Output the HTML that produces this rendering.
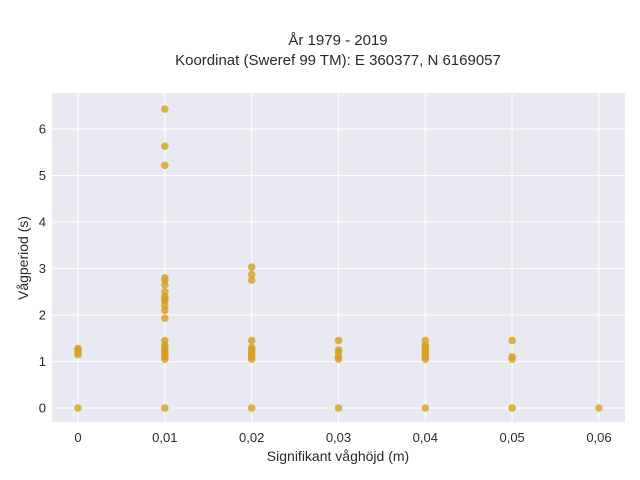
<!DOCTYPE html>
<html><head><meta charset="utf-8">
<style>
body{margin:0;background:#fff;}
svg{display:block;font-family:"Liberation Sans",sans-serif;}
</style></head>
<body>
<svg id="chart" width="640" height="480">
<text x="338" y="45" text-anchor="middle" font-size="15" fill="#2a2a2a">År 1979 - 2019</text>
<text x="338" y="65" text-anchor="middle" font-size="15" fill="#2a2a2a">Koordinat (Sweref 99 TM): E 360377, N 6169057</text>
<rect x="52" y="93" width="573" height="329" fill="#e9e9f1"/>
<g id="grid"></g>
<g id="points"></g>
<g id="ticks"></g>
<text x="338" y="461" text-anchor="middle" font-size="14" fill="#2a2a2a">Signifikant våghöjd (m)</text>
<text transform="translate(28,258) rotate(-90)" text-anchor="middle" font-size="14" fill="#2a2a2a">Vågperiod (s)</text>
</svg>
<script>
const xTicks=[0,0.01,0.02,0.03,0.04,0.05,0.06];
const xTickLabels=["0","0,01","0,02","0,03","0,04","0,05","0,06"];
const yTicks=[0,1,2,3,4,5,6];
const hsValues=[0,0,0,0,0,
0.01,0.01,0.01,0.01,0.01,0.01,0.01,0.01,0.01,0.01,0.01,0.01,0.01,0.01,0.01,0.01,0.01,0.01,0.01,0.01,0.01,0.01,
0.02,0.02,0.02,0.02,0.02,0.02,0.02,0.02,0.02,0.02,0.02,
0.03,0.03,0.03,0.03,0.03,0.03,
0.04,0.04,0.04,0.04,0.04,0.04,0.04,0.04,0.04,
0.05,0.05,0.05,0.05,
0.06];
const tpValues=[0,1.15,1.2,1.25,1.28,
0,1.05,1.1,1.15,1.2,1.25,1.3,1.35,1.45,1.93,2.1,2.2,2.3,2.35,2.4,2.5,2.65,2.75,2.8,5.22,5.63,6.43,
0,1.05,1.1,1.15,1.2,1.25,1.3,1.45,2.75,2.87,3.03,
0,1.05,1.1,1.2,1.25,1.45,
0,1.05,1.1,1.15,1.2,1.25,1.3,1.35,1.45,
0,1.05,1.1,1.45,
0];
const X=v=>78+v*8683;
const Y=v=>408-v*46.5;
const NS="http://www.w3.org/2000/svg";
const grid=document.getElementById('grid'),pts=document.getElementById('points'),tk=document.getElementById('ticks');
function mk(tag,attrs,parent){const e=document.createElementNS(NS,tag);for(const k in attrs)e.setAttribute(k,attrs[k]);parent.appendChild(e);return e;}
xTicks.forEach((t,i)=>{
  const l=mk('line',{x1:X(t),x2:X(t),y1:93,y2:422,stroke:'#fff','stroke-width':1},grid);
  
  
  const tx=mk('text',{x:X(t),y:442,'text-anchor':'middle','font-size':13,fill:'#2a2a2a'},tk);
  tx.textContent=xTickLabels[i];
  
  
});
yTicks.forEach(t=>{
  const l=mk('line',{x1:52,x2:625,y1:Y(t),y2:Y(t),stroke:'#fff','stroke-width':1},grid);
  
  
  const tx=mk('text',{x:46,y:Y(t)+4.5,'text-anchor':'end','font-size':13,fill:'#2a2a2a'},tk);
  tx.textContent=String(t);
  
  
});
hsValues.forEach((h,i)=>{
  const c=mk('circle',{cx:X(h),cy:Y(tpValues[i]),r:3.8,fill:'#d4a020','fill-opacity':0.8},pts);
  
  
});
</script>
</body></html>
